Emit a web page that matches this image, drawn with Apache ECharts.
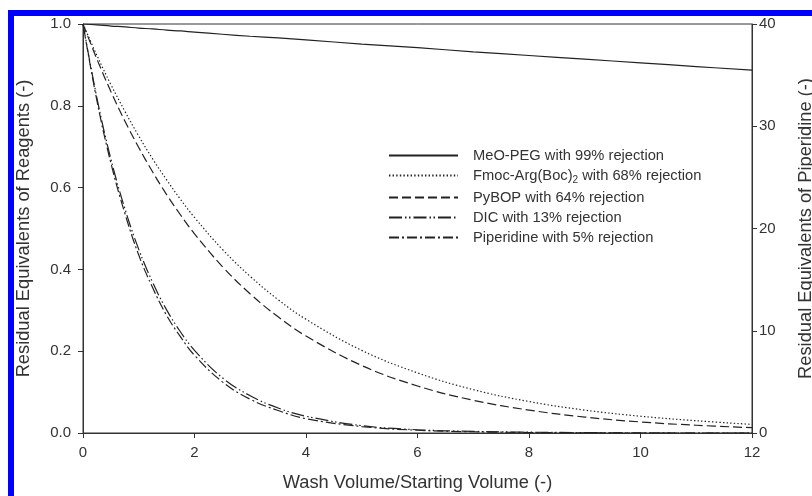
<!DOCTYPE html>
<html>
<head>
<meta charset="utf-8">
<script src="https://cdn.jsdelivr.net/npm/echarts@6/dist/echarts.min.js"></script>
<style>
  html, body { margin: 0; padding: 0; background: #fff; }
  #wrap { position: relative; width: 812px; height: 496px; overflow: hidden; }
  #chart { position: absolute; left: 0; top: 0; width: 812px; height: 496px; }
  #frame { position: absolute; left: 8px; top: 10px; width: 900px; height: 600px;
           border-left: 6px solid #0000ff; border-top: 6px solid #0000ff; pointer-events: none; }
</style>
</head>
<body>
<div id="wrap">
  <div id="chart"></div>
  <div id="frame"></div>
</div>
<script>
// Wash volume / starting volume (x)
const washVolume = [0, 0.25, 0.5, 0.75, 1, 1.25, 1.5, 1.75, 2, 2.5, 3, 3.5, 4, 5, 6, 7, 8, 9, 10, 11, 12];
// Residual equivalents of reagents (left axis)
const meoPeg   = [1.000, 0.998, 0.995, 0.993, 0.990, 0.988, 0.985, 0.983, 0.980, 0.975, 0.970, 0.966, 0.961, 0.951, 0.942, 0.932, 0.923, 0.914, 0.905, 0.896, 0.887];
const fmocArg  = [1.000, 0.923, 0.852, 0.787, 0.726, 0.670, 0.619, 0.571, 0.527, 0.449, 0.383, 0.326, 0.278, 0.202, 0.147, 0.106, 0.077, 0.056, 0.041, 0.030, 0.021];
const pybop    = [1.000, 0.914, 0.835, 0.763, 0.698, 0.638, 0.583, 0.533, 0.487, 0.407, 0.340, 0.284, 0.237, 0.165, 0.115, 0.080, 0.056, 0.039, 0.027, 0.019, 0.013];
const dic      = [1.000, 0.819, 0.670, 0.549, 0.449, 0.368, 0.301, 0.247, 0.202, 0.135, 0.091, 0.061, 0.041, 0.018, 0.008, 0.004, 0.002, 0.001, 0.000, 0.000, 0.000];
// Residual equivalents of piperidine (right axis)
const piperidine = [40.0, 32.5, 26.4, 21.5, 17.4, 14.2, 11.5, 9.4, 7.6, 5.0, 3.3, 2.2, 1.4, 0.63, 0.27, 0.12, 0.05, 0.02, 0.01, 0.0, 0.0];

const seriesNames = [
  'MeO-PEG with 99% rejection',
  'Fmoc-Arg(Boc)2 with 68% rejection',
  'PyBOP with 64% rejection',
  'DIC with 13% rejection',
  'Piperidine with 5% rejection'
];
const xTicks = { min: 0, max: 12, interval: 2 };
const yLeftTicks = { min: 0, max: 1, interval: 0.2 };
const yRightTicks = { min: 0, max: 40, interval: 10 };

const FONT = '"Liberation Sans", Arial, Helvetica, sans-serif';
const TXT = '#333';
const LINE = '#222';

function pairs(ys) { return washVolume.map((x, i) => [x, ys[i]]); }

const dashes = [
  'solid',
  [1.4, 2.2],
  [9, 4],
  [13, 3, 1.5, 2.5, 1.5, 3],
  [10, 3, 2, 3]
];
const values = [meoPeg, fmocArg, pybop, dic, piperidine];

const chart = echarts.init(document.getElementById('chart'), null, { renderer: 'canvas' });

const axisCommon = {
  axisLine: { show: true, lineStyle: { color: '#333', width: 1 } },
  axisTick: { show: true, inside: false, length: 5, lineStyle: { color: '#333', width: 1 } },
  splitLine: { show: false },
  nameTextStyle: { fontFamily: FONT, fontSize: 18.3, color: TXT }
};

chart.setOption({
  animation: false,
  backgroundColor: '#fff',
  grid: { left: 83, right: 60, top: 24, bottom: 63, show: true, borderColor: '#333', borderWidth: 1,
          containLabel: false, outerBoundsMode: 'none' },
  legend: {
    show: true,
    orient: 'vertical',
    left: 383,
    top: 143,
    itemWidth: 69,
    itemHeight: 14,
    itemGap: 5,
    itemStyle: { opacity: 0 },
    formatter: function (name) {
      return name.replace('(Boc)2', '(Boc){sub|2}');
    },
    textStyle: {
      fontFamily: FONT, fontSize: 14.7, color: TXT, lineHeight: 14,
      padding: [0, 0, 0, 10],
      rich: {
        sub: { fontFamily: FONT, fontSize: 10, color: TXT, padding: [9, 0, 0, 0] }
      }
    },
    data: seriesNames
  },
  xAxis: Object.assign({}, axisCommon, {
    type: 'value',
    min: xTicks.min, max: xTicks.max, interval: xTicks.interval,
    name: 'Wash Volume/Starting Volume (-)',
    nameLocation: 'middle',
    nameGap: 41,
    axisLabel: { fontFamily: FONT, fontSize: 15, color: TXT, margin: 12 }
  }),
  yAxis: [
    Object.assign({}, axisCommon, {
      type: 'value',
      position: 'left',
      min: yLeftTicks.min, max: yLeftTicks.max, interval: yLeftTicks.interval,
      name: 'Residual Equivalents of Reagents (-)',
      nameLocation: 'middle',
      nameGap: 50,
      axisLabel: { fontFamily: FONT, fontSize: 15, color: TXT, margin: 12, formatter: v => v.toFixed(1) }
    }),
    Object.assign({}, axisCommon, {
      type: 'value',
      position: 'right',
      min: yRightTicks.min, max: yRightTicks.max, interval: yRightTicks.interval,
      name: 'Residual Equivalents of Piperidine (-)',
      nameLocation: 'middle',
      nameGap: 45,
      nameRotate: 90,
      axisLabel: { fontFamily: FONT, fontSize: 15, color: TXT, margin: 7 }
    })
  ],
  series: seriesNames.map((name, i) => ({
    type: 'line',
    name: name,
    yAxisIndex: i === 4 ? 1 : 0,
    data: pairs(values[i]),
    smooth: 0.4,
    symbol: 'none',
    showSymbol: false,
    lineStyle: { color: LINE, width: 1.2, type: dashes[i] },
    itemStyle: { color: LINE }
  }))
});
</script>
</body>
</html>
